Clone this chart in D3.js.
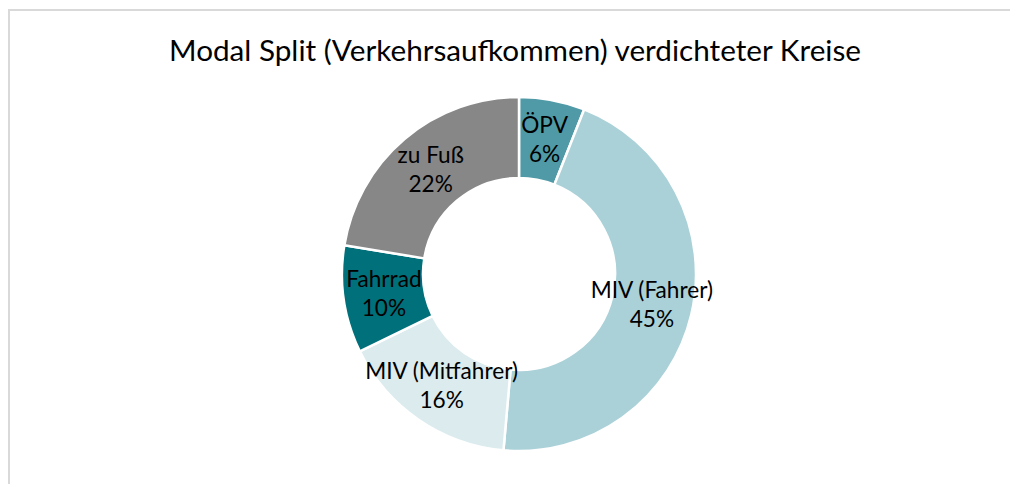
<!DOCTYPE html>
<html>
<head>
<meta charset="utf-8">
<style>
  body { margin: 0; background: #fff; }
  svg { display: block; }
</style>
</head>
<body>
<svg></svg>
<script src="https://cdn.jsdelivr.net/npm/d3@7"></script>
<script>
// data (clockwise from 12 o'clock)
var categories = ["ÖPV", "MIV (Fahrer)", "MIV (Mitfahrer)", "Fahrrad", "zu Fuß"];
var shares = [6.0, 45.4, 16.4, 9.8, 22.4];
var percentLabels = ["6%", "45%", "16%", "10%", "22%"];
var colors = ["#4f9aa6", "#aad1d8", "#dbebee", "#00707a", "#878787"];
var title = "Modal Split (Verkehrsaufkommen) verdichteter Kreise";

var width = 1010, height = 484;
var fontFam = "Lato, 'Open Sans', sans-serif";

var svg = d3.select("svg")
    .attr("width", width)
    .attr("height", height);

// chart frame (right/bottom edges run off the page)
svg.append("rect")
    .attr("x", 9).attr("y", 10)
    .attr("width", 1010).attr("height", 500)
    .style("fill", "none")
    .style("stroke", "#d9d9d9")
    .style("stroke-width", 2);

var titleText = svg.append("text")
    .attr("x", 515)
    .attr("y", 61)
    .attr("text-anchor", "middle")
    .style("font-family", fontFam)
    .style("font-size", "25px")
    .style("fill", "#000")
    .text(title);

// stretch the title font to the width it has in the reference
var tw = titleText.node().getComputedTextLength();
titleText.style("font-size", (25 * 692 / tw) + "px");

// same trick for the slice labels: "MIV (Mitfahrer)" is ~153px wide
var probe = svg.append("text")
    .style("font-family", fontFam)
    .style("font-size", "20px")
    .text("MIV (Mitfahrer)");
var lblSize = 20 * 153 / probe.node().getComputedTextLength();
probe.remove();

var cx = 519, cy = 274;
var outerR = 177, innerR = 96;

var rows = categories.map(function(c, i) {
    return { name: c, value: shares[i], pct: percentLabels[i], color: colors[i] };
});

var pie = d3.pie()
    .sort(null)
    .value(function(d) { return d.value; });

var arc = d3.arc()
    .innerRadius(innerR)
    .outerRadius(outerR);

var g = svg.append("g")
    .attr("transform", "translate(" + cx + "," + cy + ")");

var arcs = pie(rows);

g.selectAll("path")
    .data(arcs)
    .enter().append("path")
    .attr("d", arc)
    .style("fill", function(d) { return d.data.color; })
    .style("stroke", "#fff")
    .style("stroke-width", 2.5);

var labels = g.selectAll("text.lbl")
    .data(arcs)
    .enter().append("text")
    .attr("class", "lbl")
    .attr("text-anchor", "middle")
    .attr("transform", function(d) {
        var c = arc.centroid(d);
        return "translate(" + c[0] + "," + c[1] + ")";
    })
    .style("font-family", fontFam)
    .style("font-size", lblSize + "px")
    .style("fill", "#000");

labels.append("tspan")
    .attr("x", 0)
    .attr("y", -7)
    .text(function(d) { return d.data.name; });

labels.append("tspan")
    .attr("x", 0)
    .attr("y", 22)
    .text(function(d) { return d.data.pct; });
</script>
</body>
</html>
